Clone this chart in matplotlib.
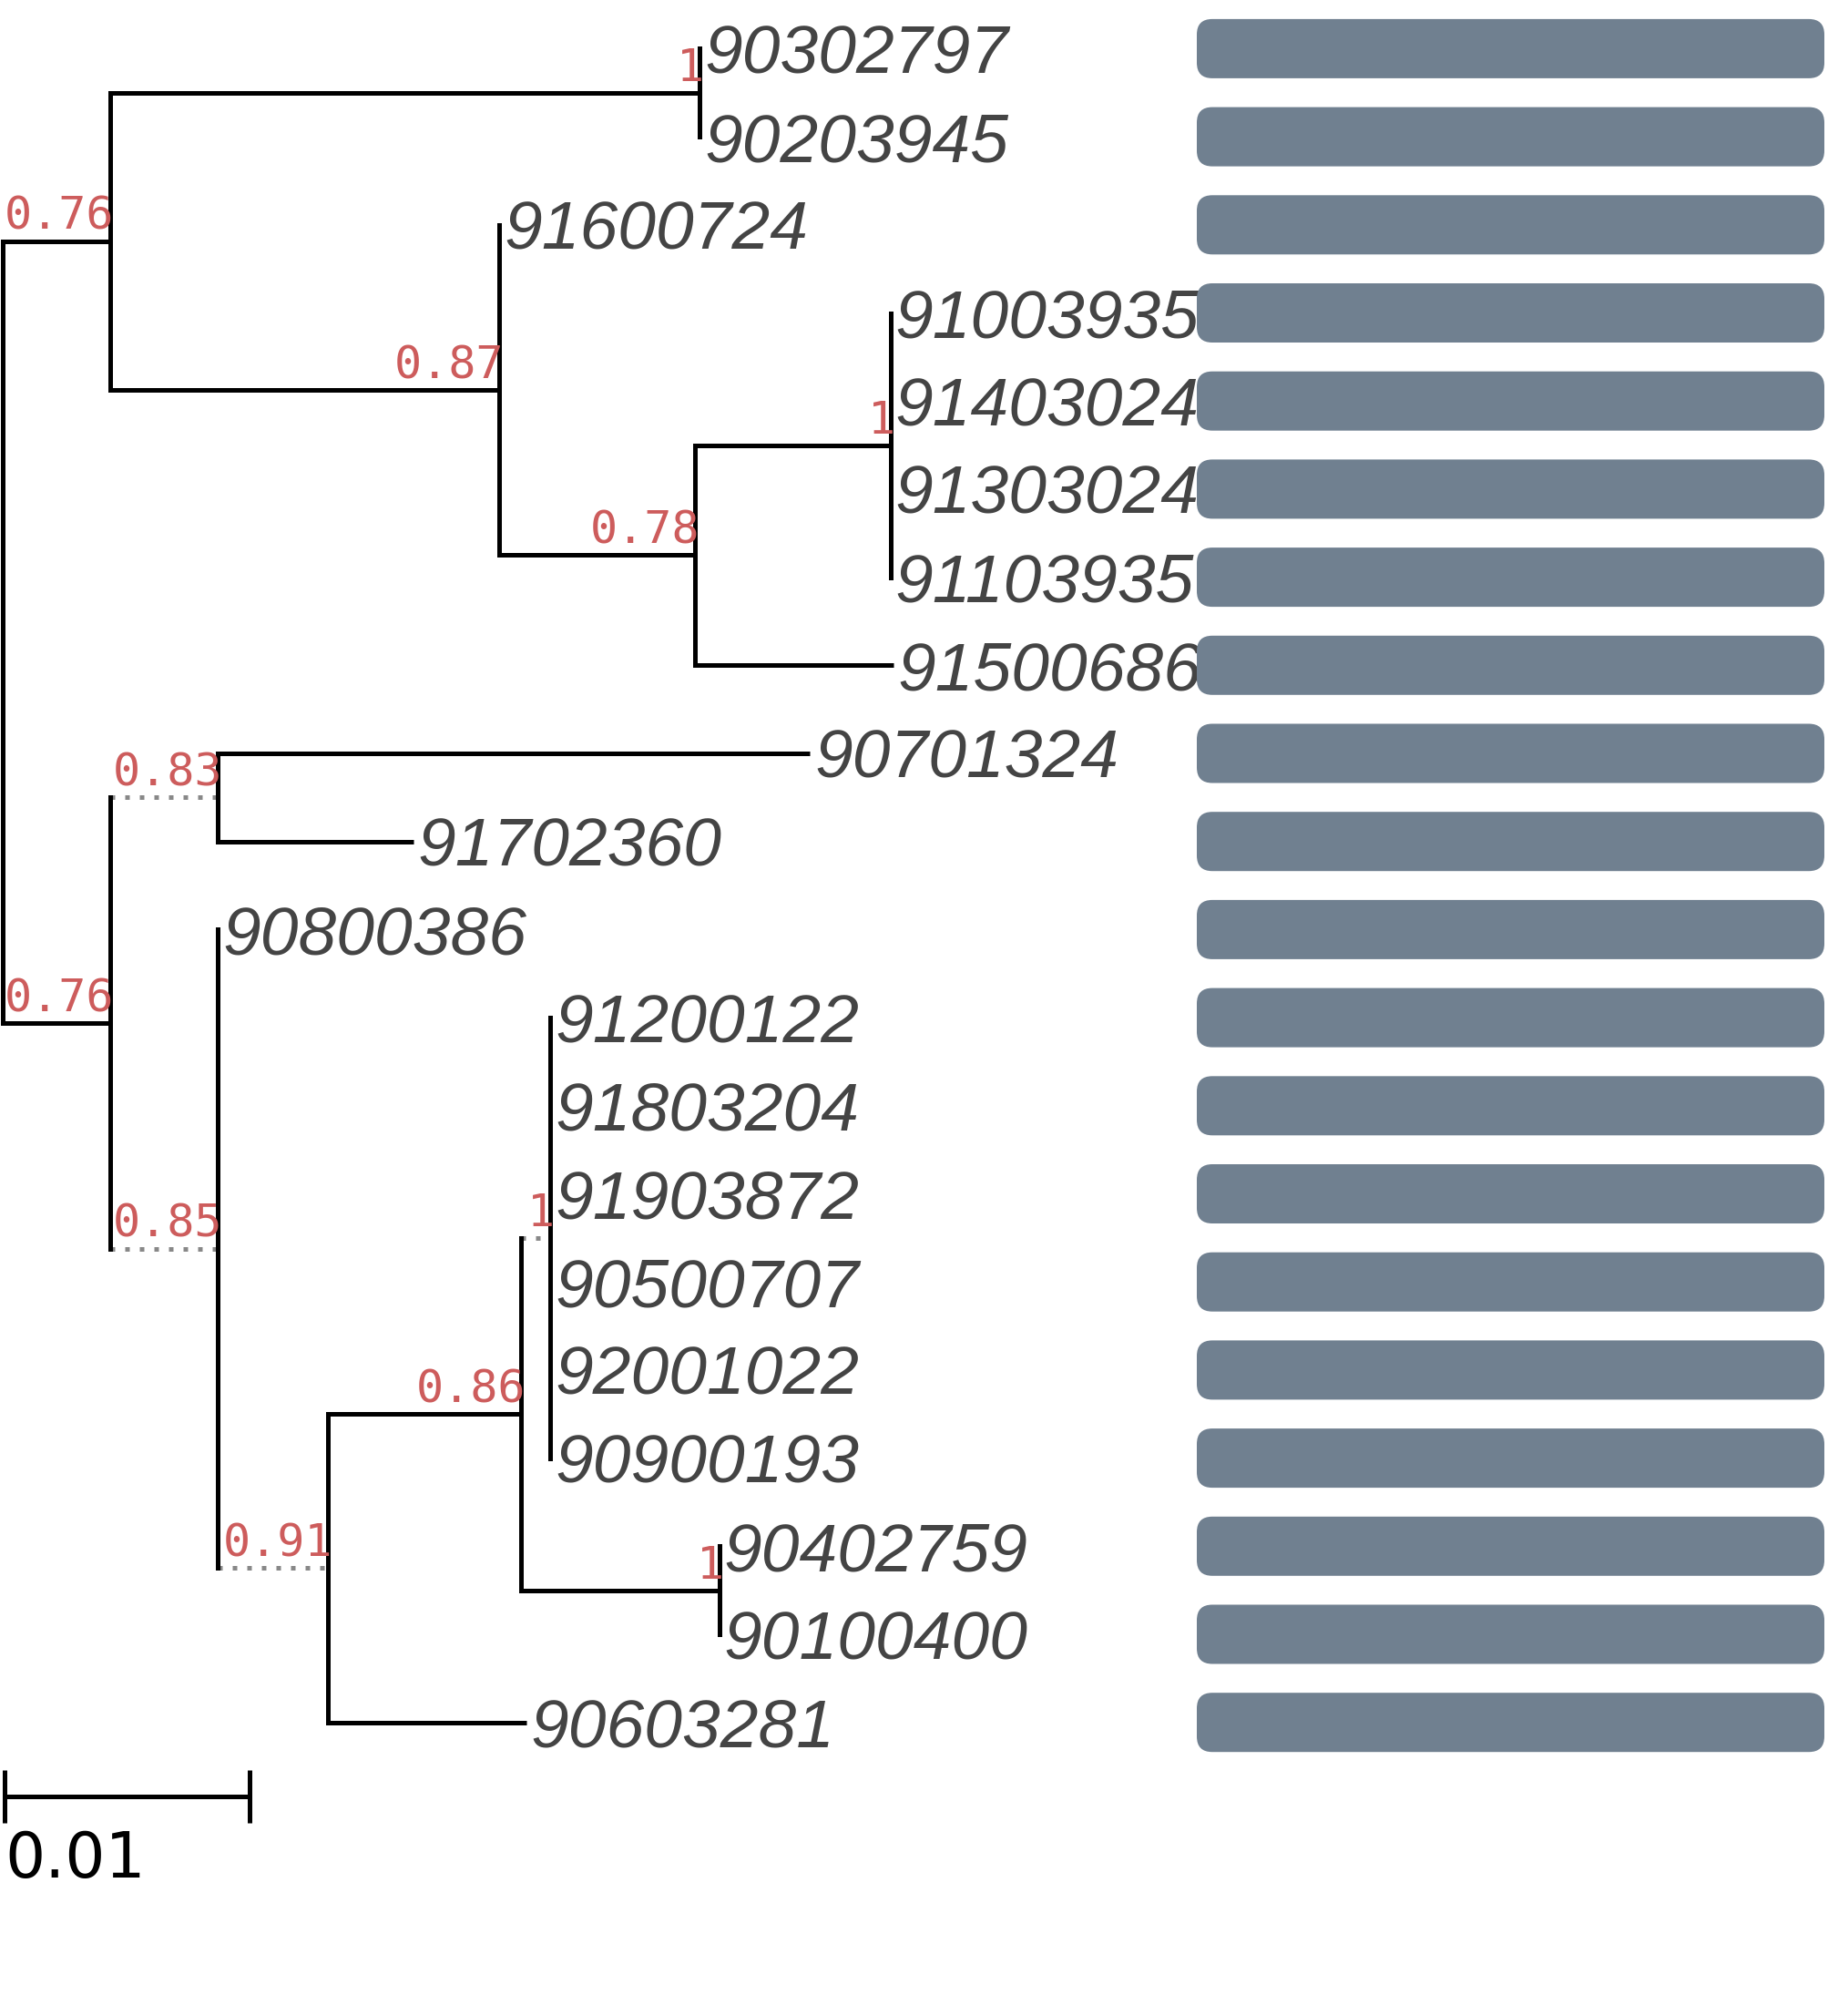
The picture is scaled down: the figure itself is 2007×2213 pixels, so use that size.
import matplotlib
matplotlib.use('Agg')
import matplotlib.pyplot as plt
from matplotlib.patches import FancyBboxPatch

# tip labels, top to bottom
leaf_names = ['90302797', '90203945', '91600724', '91003935', '91403024',
              '91303024', '91103935', '91500686', '90701324', '91702360',
              '90800386', '91200122', '91803204', '91903872', '90500707',
              '92001022', '90900193', '90402759', '90100400', '90603281']
leaf_parents = ['A', 'A', 'B', 'D', 'D', 'D', 'D', 'C', 'E', 'E',
                'F', 'I', 'I', 'I', 'I', 'I', 'I', 'J', 'J', 'G']
leaf_lengths = [0, 0, 0, 0, 0, 0, 0, 0.0081, 0.0242, 0.0080,
                0, 0, 0, 0, 0, 0, 0, 0, 0, 0.0081]

# internal nodes (parents listed before their children)
node_names = ['root', 'n1', 'A', 'B', 'C', 'D', 'n2', 'E', 'F', 'G', 'H', 'I', 'J']
node_parents = [None, 'root', 'n1', 'n1', 'B', 'C', 'root', 'n2', 'n2', 'F', 'G', 'H', 'H']
node_lengths = [0, 0.0044, 0.0241, 0.0159, 0.0080, 0.0080, 0.0044, 0.0044,
                0.0044, 0.0045, 0.0079, 0.0012, 0.0081]
node_support = [None, 0.76, 1, 0.87, 0.78, 1, 0.76, 0.83, 0.85, 0.91, 0.86, 1, 1]
dotted_branches = ['E', 'F', 'G', 'I']

bar_values = [1, 1, 1, 1, 1, 1, 1, 1, 1, 1, 1, 1, 1, 1, 1, 1, 1, 1, 1, 1]
scale_length = 0.01

W, H = 2007, 2213
PX_PER_UNIT = 26870
ROW_PX = 96.7
ROW0_PX = 53.4
LINE_W = 3.6
LEAF_COLOR = '#444444'
SUPPORT_COLOR = '#cd5c5c'
BAR_COLOR = '#708090'

# x positions from cumulative branch lengths
xpos = {}
for name, par, bl in zip(node_names, node_parents, node_lengths):
    xpos[name] = 0.0 if par is None else xpos[par] + bl
leaf_x = [xpos[p] + bl for p, bl in zip(leaf_parents, leaf_lengths)]

# y positions: tips are rows, internal nodes sit at the mean of their children
ypos = {}
children = {n: [] for n in node_names}
for i, p in enumerate(leaf_parents):
    children[p].append(('leaf', i))
for n, p in zip(node_names, node_parents):
    if p is not None:
        children[p].append(('node', n))


def child_y(c):
    return c[1] if c[0] == 'leaf' else ypos[c[1]]


for n in reversed(node_names):
    ys = [child_y(c) for c in children[n]]
    ypos[n] = sum(ys) / len(ys)

fig = plt.figure(figsize=(W / 100, H / 100), dpi=100)
ax = fig.add_axes([0, 0, 1, 1])
ax.set_xlim(-2.5 / PX_PER_UNIT, (W - 2.5) / PX_PER_UNIT)
ylim = ((H - ROW0_PX) / ROW_PX, -ROW0_PX / ROW_PX)
ax.set_ylim(*ylim)
ax.axis('off')

# vertical connectors
for n in node_names:
    ys = [child_y(c) for c in children[n]]
    ax.plot([xpos[n], xpos[n]], [min(ys), max(ys)], color='black',
            lw=LINE_W, solid_capstyle='projecting', zorder=3)

# horizontal branches of internal nodes
for n, p in zip(node_names, node_parents):
    if p is None:
        continue
    if n in dotted_branches:
        ax.plot([xpos[p], xpos[n]], [ypos[n], ypos[n]], color='#888888',
                lw=LINE_W, linestyle=(0, (1, 2.2)), zorder=2)
    else:
        ax.plot([xpos[p], xpos[n]], [ypos[n], ypos[n]], color='black',
                lw=LINE_W, solid_capstyle='projecting', zorder=3)

# horizontal branches of tips
for i, (p, bl) in enumerate(zip(leaf_parents, leaf_lengths)):
    if bl > 0:
        ax.plot([xpos[p], leaf_x[i]], [i, i], color='black', lw=LINE_W,
                solid_capstyle='butt', zorder=3)

# tip labels
for i, name in enumerate(leaf_names):
    ax.annotate(name, (leaf_x[i], i), xytext=(5, 0), textcoords='offset pixels',
                ha='left', va='center_baseline', fontsize=54, style='italic',
                family='Liberation Sans', color=LEAF_COLOR, zorder=4)

# support values, just above and left of their node
for n, s in zip(node_names, node_support):
    if s is None:
        continue
    ax.annotate(f'{s:g}', (xpos[n], ypos[n]), xytext=(5, 13),
                textcoords='offset pixels', ha='right', va='baseline',
                fontsize=36, family='DejaVu Sans Mono', color=SUPPORT_COLOR,
                zorder=5)

# scale bar
sb_y = (1971.7 - ROW0_PX) / ROW_PX
sb_x0 = 2.5 / PX_PER_UNIT
tick = 29 / ROW_PX
ax.plot([sb_x0, sb_x0 + scale_length], [sb_y, sb_y], color='black', lw=LINE_W,
        solid_capstyle='butt')
for xx in (sb_x0, sb_x0 + scale_length):
    ax.plot([xx, xx], [sb_y - tick, sb_y + tick], color='black', lw=LINE_W,
            solid_capstyle='butt')
ax.annotate(f'{scale_length:g}', (0, sb_y), xytext=(3, -36),
            textcoords='offset pixels', ha='left', va='top', fontsize=50,
            family='DejaVu Sans', color='black')

# bars on the right
bx0, bx1 = 1314, 2003
bax = fig.add_axes([bx0 / W, 0, (bx1 - bx0) / W, 1])
bax.set_xlim(0, max(bar_values))
bax.set_ylim(*ylim)
bax.axis('off')
bar_h = 65 / ROW_PX
radius = 17 / (bx1 - bx0)
aspect = (1 / ROW_PX) / (1 / (bx1 - bx0))
for i, v in enumerate(bar_values):
    patch = FancyBboxPatch((0, i - bar_h / 2), v, bar_h,
                           boxstyle=f'round,pad=0,rounding_size={radius}',
                           mutation_aspect=aspect, facecolor=BAR_COLOR,
                           edgecolor='none', clip_on=False, zorder=6)
    bax.add_patch(patch)

fig.savefig('out.png', dpi=100)
